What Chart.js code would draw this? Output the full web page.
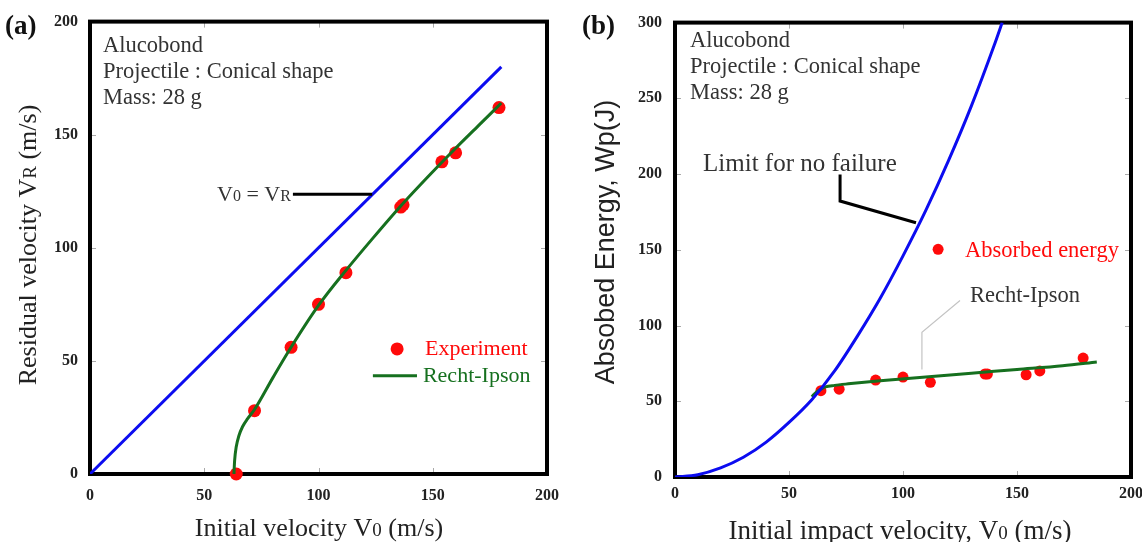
<!DOCTYPE html>
<html>
<head>
<meta charset="utf-8">
<script src="https://cdn.jsdelivr.net/npm/chart.js@4.4.1/dist/chart.umd.min.js"></script>
<style>
  html, body { margin: 0; padding: 0; background: #fff; overflow: hidden; width: 1142px; height: 542px; }
  #chartA { position: absolute; left: 0; top: 0; }
  #chartB { position: absolute; left: 571px; top: 0; }
</style>
</head>
<body>
<canvas id="chartA" width="571" height="542"></canvas>
<canvas id="chartB" width="600" height="542"></canvas>
<script>
// ---- panel (a): residual velocity ----
const expV0 = [64, 72, 88, 100, 112, 136, 137, 154, 160, 179];
const expVR = [0, 28, 56, 75, 89, 118, 119, 138, 142, 162];
const riV0 = [63, 63.3, 64, 65.2, 66.8, 69, 72, 80, 88, 100, 112, 124, 136, 148, 160, 170, 180];
const riVR = [0, 6, 12, 17, 21, 24.5, 28.5, 42.5, 56, 74.5, 90, 104.5, 118.5, 131.5, 144, 154, 164];
const eqV0 = [0, 180];
const eqVR = [0, 180];

// ---- panel (b): absorbed energy ----
const expEV0 = [64, 72, 88, 100, 112, 136, 137, 154, 160, 179];
const expE = [57, 58, 64, 66, 62.5, 68, 68, 67.5, 70, 78.5];
const riEV0 = [60, 62, 64, 66, 70, 76, 90, 110, 130, 150, 170, 185];
const riE = [53, 56, 58, 59.5, 60.5, 61.5, 63.5, 66, 68.5, 71, 73.5, 76];
const limV0 = [0, 10, 20, 30, 40, 50, 60, 70, 80, 90, 100, 110, 120, 130, 140, 143.5];
const limE = [0, 1.5, 6, 13, 23, 36, 51, 70, 93, 118, 146, 176, 209, 245, 285, 300];

const xTicks = [0, 50, 100, 150, 200];
const yTicksA = [0, 50, 100, 150, 200];
const yTicksB = [0, 50, 100, 150, 200, 250, 300];

const SERIF = '"Liberation Serif", "Times New Roman", serif';
const SANS = '"Liberation Sans", Arial, sans-serif';
const BLUE = '#0c0cf0';
const GREEN = '#16701f';
const RED = '#ff0a0a';

const pts = (xs, ys) => xs.map((x, i) => ({ x: x, y: ys[i] }));

// draws text made of pieces with different fonts on one baseline
function richText(ctx, parts, x, y, align) {
  let w = 0;
  parts.forEach(p => { ctx.font = p.font; w += ctx.measureText(p.t).width; });
  let cx = align === 'center' ? x - w / 2 : x;
  ctx.textAlign = 'left';
  parts.forEach(p => {
    ctx.font = p.font;
    ctx.fillText(p.t, cx, y + (p.dy || 0));
    cx += ctx.measureText(p.t).width;
  });
}

function frameAndTicks(chart, yTicks) {
  const ctx = chart.ctx, ca = chart.chartArea;
  const sx = chart.scales.x, sy = chart.scales.y;
  ctx.save();
  ctx.strokeStyle = '#aaa';
  ctx.lineWidth = 1;
  xTicks.slice(1, -1).forEach(v => {
    const p = Math.round(sx.getPixelForValue(v)) + 0.5;
    ctx.beginPath();
    ctx.moveTo(p, ca.bottom); ctx.lineTo(p, ca.bottom - 6);
    ctx.moveTo(p, ca.top); ctx.lineTo(p, ca.top + 6);
    ctx.stroke();
  });
  yTicks.slice(1, -1).forEach(v => {
    const p = Math.round(sy.getPixelForValue(v)) + 0.5;
    ctx.beginPath();
    ctx.moveTo(ca.left, p); ctx.lineTo(ca.left + 6, p);
    ctx.moveTo(ca.right, p); ctx.lineTo(ca.right - 6, p);
    ctx.stroke();
  });
  ctx.strokeStyle = '#000';
  ctx.lineWidth = 4;
  ctx.strokeRect(ca.left, ca.top, ca.width, ca.height);
  ctx.restore();
}

function axes(yMax, yTicks, xPad, yPad) {
  const tickFont = { family: SERIF, size: 16, weight: 'bold' };
  return {
    x: {
      type: 'linear', min: 0, max: 200,
      afterBuildTicks: s => { s.ticks = xTicks.map(v => ({ value: v })); },
      ticks: { padding: xPad, color: '#222', font: tickFont },
      grid: { display: false, drawTicks: false }, border: { display: false },
      afterFit: s => { s.height = 40; }
    },
    y: {
      type: 'linear', min: 0, max: yMax,
      afterBuildTicks: s => { s.ticks = yTicks.map(v => ({ value: v })); },
      ticks: { padding: yPad, color: '#222', font: tickFont },
      grid: { display: false, drawTicks: false }, border: { display: false },
      afterFit: s => { s.width = 50; }
    }
  };
}

const common = {
  responsive: false,
  animation: false,
  events: [],
  plugins: { legend: { display: false }, tooltip: { enabled: false } }
};

const infoLines = ['Alucobond', 'Projectile : Conical shape', 'Mass: 28 g'];

// ---------------- chart (a) ----------------
new Chart(document.getElementById('chartA'), {
  type: 'scatter',
  data: {
    datasets: [
      { data: pts(eqV0, eqVR), showLine: true, borderColor: BLUE, borderWidth: 3, pointRadius: 0 },
      { data: pts(riV0, riVR), showLine: true, borderColor: GREEN, borderWidth: 3, pointRadius: 0, cubicInterpolationMode: 'monotone' },
      { data: pts(expV0, expVR), pointRadius: 6.5, pointBackgroundColor: RED, pointBorderWidth: 0, clip: false }
    ]
  },
  options: Object.assign({}, common, {
    layout: { padding: { left: 40, right: 24, top: 18, bottom: 28 } },
    scales: axes(200, yTicksA, 12, 12)
  }),
  plugins: [{
    id: 'panelA',
    beforeDatasetsDraw(chart) { frameAndTicks(chart, yTicksA); },
    afterDraw(chart) {
      const ctx = chart.ctx, ca = chart.chartArea;
      const X = v => chart.scales.x.getPixelForValue(v);
      const Y = v => chart.scales.y.getPixelForValue(v);
      ctx.save();
      ctx.fillStyle = '#333';
      ctx.textBaseline = 'alphabetic';
      ctx.font = '22.5px ' + SERIF;
      infoLines.forEach((t, i) => ctx.fillText(t, ca.left + 13, ca.top + 30 + i * 26));

      // V0 = VR with leader
      ctx.textBaseline = 'middle';
      richText(ctx, [
        { t: 'V', font: '22px ' + SERIF }, { t: '0', font: '16px ' + SERIF, dy: 2 },
        { t: ' = V', font: '22px ' + SERIF }, { t: 'R', font: '16px ' + SERIF, dy: 2 }
      ], X(55.6), Y(123.7) + 1, 'left');
      ctx.strokeStyle = '#000';
      ctx.lineWidth = 3;
      ctx.beginPath();
      ctx.moveTo(X(88.8), Y(123.7)); ctx.lineTo(X(123.5), Y(123.7));
      ctx.stroke();

      // legend
      ctx.fillStyle = RED;
      ctx.beginPath(); ctx.arc(X(134.4), Y(55.3), 6.5, 0, Math.PI * 2); ctx.fill();
      ctx.font = '22px ' + SERIF;
      ctx.fillText('Experiment', X(146.6), Y(55.3));
      ctx.strokeStyle = GREEN;
      ctx.beginPath(); ctx.moveTo(X(123.8), Y(43.4)); ctx.lineTo(X(143.1), Y(43.4)); ctx.stroke();
      ctx.fillStyle = GREEN;
      ctx.fillText('Recht-Ipson', X(145.7), Y(43.4));

      // axis titles
      ctx.fillStyle = '#222';
      ctx.textBaseline = 'alphabetic';
      richText(ctx, [
        { t: 'Initial velocity V', font: '26px ' + SERIF }, { t: '0', font: '19px ' + SERIF },
        { t: ' (m/s)', font: '26px ' + SERIF }
      ], 319, 536, 'center');
      ctx.save();
      ctx.translate(27, 245);
      ctx.rotate(-Math.PI / 2);
      richText(ctx, [
        { t: 'Residual velocity V', font: '26px ' + SERIF }, { t: 'R', font: '19px ' + SERIF },
        { t: ' (m/s)', font: '26px ' + SERIF }
      ], 0, 9, 'center');
      ctx.restore();

      ctx.fillStyle = '#111';
      ctx.font = 'bold 27px ' + SERIF;
      ctx.fillText('(a)', 5, 34);
      ctx.restore();
    }
  }]
});

// ---------------- chart (b) ----------------
new Chart(document.getElementById('chartB'), {
  type: 'scatter',
  data: {
    datasets: [
      { data: pts(limV0, limE), showLine: true, borderColor: BLUE, borderWidth: 3, pointRadius: 0, cubicInterpolationMode: 'monotone' },
      { data: pts(riEV0, riE), showLine: true, borderColor: GREEN, borderWidth: 3, pointRadius: 0, cubicInterpolationMode: 'monotone' },
      { data: pts(expEV0, expE), pointRadius: 5.5, pointBackgroundColor: RED, pointBorderWidth: 0, clip: false }
    ]
  },
  options: Object.assign({}, common, {
    layout: { padding: { left: 54, right: 40, top: 16, bottom: 25 } },
    scales: axes(300, yTicksB, 7, 13)
  }),
  plugins: [{
    id: 'panelB',
    beforeDatasetsDraw(chart) { frameAndTicks(chart, yTicksB); },
    afterDraw(chart) {
      const ctx = chart.ctx, ca = chart.chartArea;
      const X = v => chart.scales.x.getPixelForValue(v);
      const Y = v => chart.scales.y.getPixelForValue(v);
      ctx.save();
      ctx.fillStyle = '#333';
      ctx.textBaseline = 'alphabetic';
      ctx.font = '22.5px ' + SERIF;
      infoLines.forEach((t, i) => ctx.fillText(t, ca.left + 15, ca.top + 24 + i * 26));

      // limit annotation
      ctx.font = '25px ' + SERIF;
      ctx.fillText('Limit for no failure', X(12.3), Y(201.7));
      ctx.strokeStyle = '#000';
      ctx.lineWidth = 3;
      ctx.beginPath();
      ctx.moveTo(X(72.4), Y(199.7)); ctx.lineTo(X(72.4), Y(182.2)); ctx.lineTo(X(105.7), Y(167.9));
      ctx.stroke();

      // absorbed energy legend
      ctx.textBaseline = 'middle';
      ctx.fillStyle = RED;
      ctx.beginPath(); ctx.arc(X(115.4), Y(150.3), 5.5, 0, Math.PI * 2); ctx.fill();
      ctx.font = '22.5px ' + SERIF;
      ctx.fillText('Absorbed energy', X(127.2), Y(149));

      // Recht-Ipson label with grey leader
      ctx.fillStyle = '#333';
      ctx.fillText('Recht-Ipson', X(129.4), Y(119.7));
      ctx.strokeStyle = '#c4c4c4';
      ctx.lineWidth = 1.2;
      ctx.beginPath();
      ctx.moveTo(X(125), Y(116.5)); ctx.lineTo(X(108.3), Y(95.6)); ctx.lineTo(X(108.3), Y(70.9));
      ctx.stroke();

      // axis titles
      ctx.fillStyle = '#222';
      ctx.textBaseline = 'alphabetic';
      richText(ctx, [
        { t: 'Initial impact velocity, V', font: '27px ' + SERIF }, { t: '0', font: '19px ' + SERIF },
        { t: ' (m/s)', font: '27px ' + SERIF }
      ], 329, 539, 'center');
      ctx.save();
      ctx.translate(33, 242);
      ctx.rotate(-Math.PI / 2);
      richText(ctx, [{ t: 'Absobed Energy, Wp(J)', font: '27px ' + SANS }], 0, 10, 'center');
      ctx.restore();

      ctx.fillStyle = '#111';
      ctx.font = 'bold 27px ' + SERIF;
      ctx.fillText('(b)', 11, 34);
      ctx.restore();
    }
  }]
});
</script>
</body>
</html>
